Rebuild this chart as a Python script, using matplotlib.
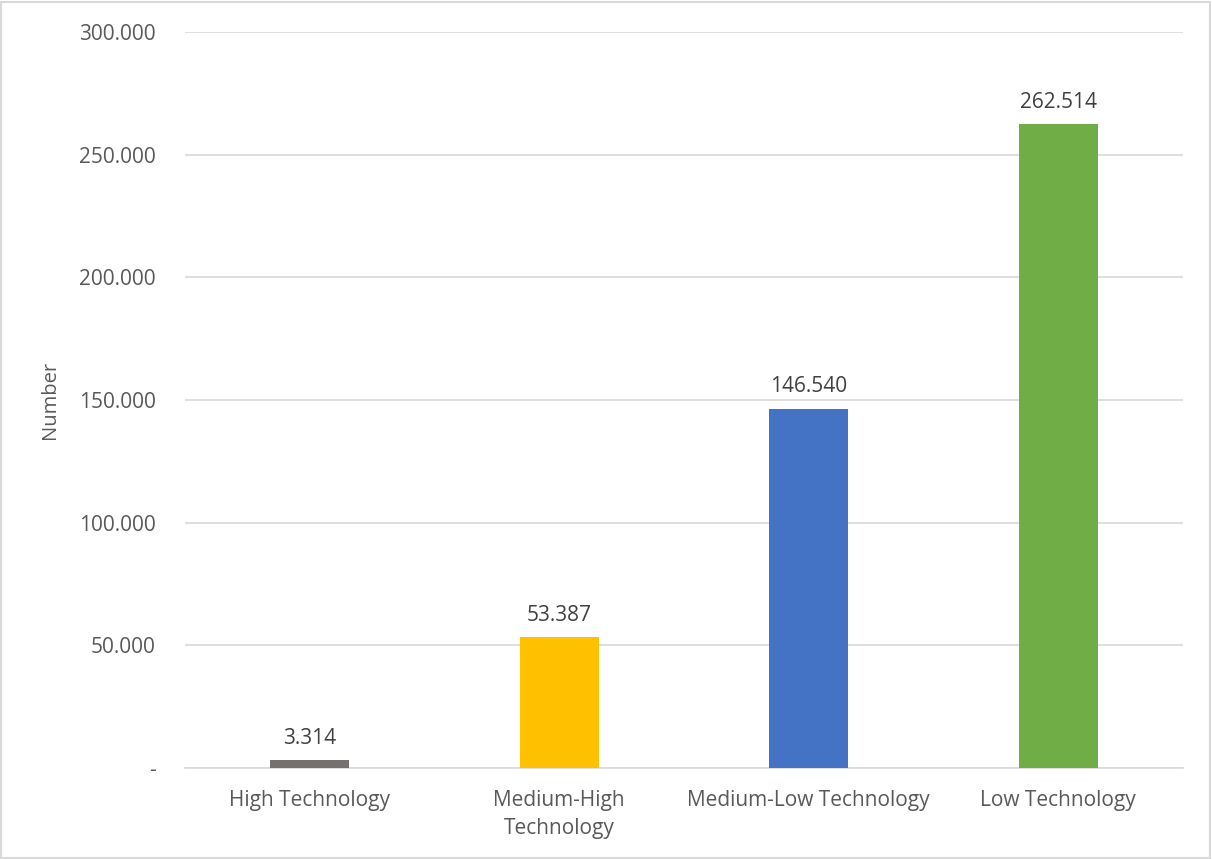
import matplotlib
matplotlib.use("Agg")
import matplotlib.pyplot as plt
from matplotlib.ticker import FuncFormatter
from matplotlib.patches import Rectangle

# data
categories = ["High Technology", "Medium-High\nTechnology",
              "Medium-Low Technology", "Low Technology"]
values = [3314, 53387, 146540, 262514]
colors = ["#767171", "#FFC000", "#4472C4", "#70AD47"]
yticks = [0, 50000, 100000, 150000, 200000, 250000, 300000]

plt.rcParams['font.family'] = ['Open Sans', 'DejaVu Sans']

def dotted_thousands(v, pos=None):
    if v == 0:
        return "-"
    return "{:,.3f}".format(v / 1000).replace(",", ".")

fig = plt.figure(figsize=(12.12, 8.59), dpi=100)
ax = fig.add_axes([0.1526, 0.1059, 0.8234, 0.8568])

x = range(len(categories))
bars = ax.bar(x, values, width=0.317, color=colors, zorder=3)

ax.set_xlim(-0.5, 3.5)
ax.set_ylim(0, 300000)
ax.set_yticks(yticks)
ax.yaxis.set_major_formatter(FuncFormatter(dotted_thousands))
ax.set_xticks(list(x))
ax.set_xticklabels(categories, linespacing=1.45)

ax.grid(axis='y', color='#D9D9D9', linewidth=1.2, zorder=0)
for s in ['top', 'right', 'left']:
    ax.spines[s].set_visible(False)
ax.spines['bottom'].set_color('#D9D9D9')
ax.spines['bottom'].set_linewidth(1.2)
ax.tick_params(axis='both', length=0, labelsize=15, colors='#595959')
ax.tick_params(axis='y', pad=21)
ax.tick_params(axis='x', pad=16)

for b, v in zip(bars, values):
    ax.annotate(dotted_thousands(v),
                xy=(b.get_x() + b.get_width() / 2, v),
                xytext=(0, 8), textcoords='offset points',
                ha='center', va='bottom', fontsize=15, color='#404040')

fig.text(0.041, 0.534, "Number", rotation=90, ha='center', va='center',
         fontsize=14.5, color='#595959')

fig.patches.append(Rectangle((0.001, 0.001), 0.997, 0.997, transform=fig.transFigure,
                             fill=False, edgecolor='#D9D9D9', linewidth=1.5))

fig.savefig("out.png", dpi=100)
